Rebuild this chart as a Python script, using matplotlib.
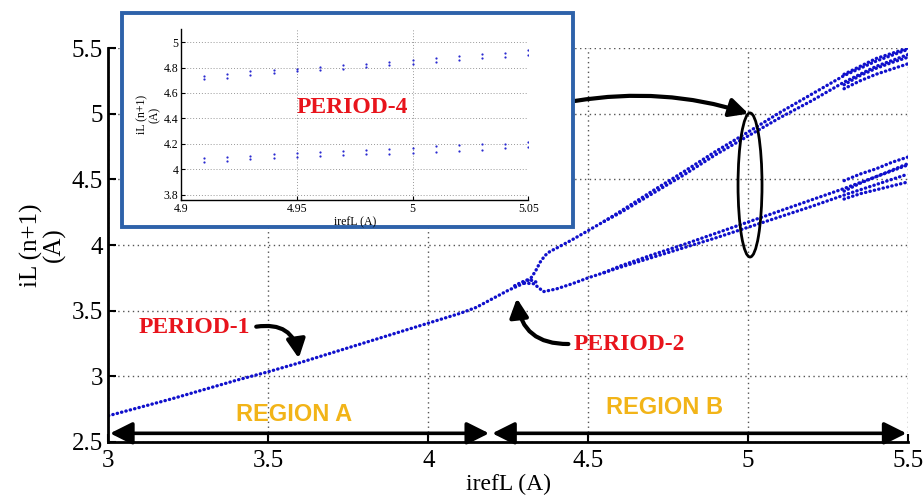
import matplotlib
matplotlib.use("Agg")
import matplotlib.pyplot as plt
from matplotlib.patches import Ellipse, Rectangle, FancyArrowPatch

plt.rcParams['font.family'] = ['Liberation Serif', 'DejaVu Serif']

# ---------------- data ----------------
# period-1 branch
p1_x = [3.0, 3.1, 3.2, 3.3, 3.4, 3.5, 3.6, 3.7, 3.8, 3.9, 4.0, 4.1, 4.15, 4.2, 4.25, 4.30]
p1_y = [2.70, 2.765, 2.83, 2.90, 2.97, 3.035, 3.105, 3.18, 3.255, 3.33, 3.405, 3.48, 3.525, 3.59, 3.655, 3.71]

# period-2 upper branch (before period-4 split)
up_x = [4.30, 4.32, 4.335, 4.35, 4.365, 4.38, 4.40, 4.45, 4.50, 4.55]
up_y = [3.71, 3.745, 3.80, 3.87, 3.92, 3.95, 3.975, 4.04, 4.11, 4.18]

# period-2 lower branch (before period-4 split)
lo_x = [4.30, 4.33, 4.36, 4.40, 4.45, 4.50, 4.55]
lo_y = [3.71, 3.705, 3.645, 3.665, 3.705, 3.75, 3.79]

# small fan at the bifurcation point
fan_x = [4.27, 4.29, 4.31, 4.325, 4.34]
fan_y = [3.69, 3.715, 3.735, 3.73, 3.715]

# period-4 strands
p4_x = [4.55, 4.6, 4.7, 4.8, 4.9, 5.0, 5.1, 5.2, 5.3, 5.4, 5.5]
up_a = [4.18, 4.255, 4.41, 4.56, 4.715, 4.86, 5.01, 5.15, 5.29, 5.40, 5.49]
up_b = [4.18, 4.245, 4.39, 4.535, 4.69, 4.83, 4.97, 5.10, 5.24, 5.36, 5.45]
lo_a = [3.79, 3.84, 3.925, 4.005, 4.09, 4.175, 4.26, 4.345, 4.43, 4.52, 4.61]
lo_b = [3.79, 3.83, 3.905, 3.98, 4.055, 4.135, 4.215, 4.295, 4.38, 4.46, 4.54]

# extra strands near the end (period-8 / chaos)
ch_x = [5.30, 5.35, 5.40, 5.45, 5.50]
up_c = [5.19, 5.25, 5.30, 5.34, 5.38]
up_d = [5.30, 5.36, 5.42, 5.46, 5.50]
up_e = [5.22, 5.29, 5.345, 5.39, 5.43]
lo_c = [4.49, 4.54, 4.58, 4.63, 4.67]
lo_d = [4.35, 4.39, 4.42, 4.45, 4.48]
lo_e = [4.41, 4.47, 4.52, 4.57, 4.62]

# inset (period-4 zoom)
in_x = [4.91, 4.92, 4.93, 4.94, 4.95, 4.96, 4.97, 4.98, 4.99, 5.00, 5.01, 5.02, 5.03, 5.04, 5.05]
in_u1 = [4.735, 4.75, 4.77, 4.78, 4.79, 4.805, 4.82, 4.83, 4.845, 4.86, 4.875, 4.89, 4.905, 4.915, 4.935]
in_u2 = [4.709, 4.72, 4.745, 4.76, 4.77, 4.78, 4.79, 4.805, 4.82, 4.83, 4.845, 4.86, 4.875, 4.885, 4.895]
in_l1 = [4.086, 4.096, 4.109, 4.122, 4.13, 4.14, 4.148, 4.153, 4.164, 4.171, 4.182, 4.19, 4.197, 4.203, 4.218]
in_l2 = [4.057, 4.068, 4.078, 4.088, 4.099, 4.104, 4.112, 4.12, 4.125, 4.132, 4.14, 4.148, 4.156, 4.166, 4.177]

x_ticks = [3, 3.5, 4, 4.5, 5, 5.5]
x_labels = ['3', '3.5', '4', '4.5', '5', '5.5']
y_ticks = [2.5, 3, 3.5, 4, 4.5, 5, 5.5]
y_labels = ['2.5', '3', '3.5', '4', '4.5', '5', '5.5']
in_xticks = [4.9, 4.95, 5.0, 5.05]
in_xlabels = ['4.9', '4.95', '5', '5.05']
in_yticks = [3.8, 4.0, 4.2, 4.4, 4.6, 4.8, 5.0]
in_ylabels = ['3.8', '4', '4.2', '4.4', '4.6', '4.8', '5']

# ---------------- figure ----------------
fig = plt.figure(figsize=(9.24, 4.95), dpi=100)
ax = fig.add_axes([0.1174, 0.1071, 0.8653, 0.7959])
ax.set_xlim(3, 5.5)
ax.set_ylim(2.5, 5.5)
for s in ['top', 'right']:
    ax.spines[s].set_visible(False)
for s in ['left', 'bottom']:
    ax.spines[s].set_linewidth(2.0)
ax.set_xticks(x_ticks, x_labels)
ax.set_yticks(y_ticks, y_labels)
ax.tick_params(direction='in', length=6, width=1.5, labelsize=18)
ax.tick_params(axis='x', pad=6)
ax.tick_params(axis='y', pad=4)
ax.grid(True, linestyle=(0, (1, 2.5)), color='#555555', lw=1.0)
ax.set_axisbelow(True)
ax.set_xlabel('irefL (A)', fontsize=17, labelpad=1)
ax.set_ylabel('iL (n+1)\n(A)', fontsize=18, linespacing=1.0, labelpad=4)

dot = dict(color='#1010cc', lw=2.4, linestyle=(0, (0.1, 1.25)), dash_capstyle='round')
ax.plot(p1_x, p1_y, **dot)
ax.plot(up_x, up_y, **dot)
ax.plot(lo_x, lo_y, **dot)
ax.plot(fan_x, fan_y, **dot)
for yy in (up_a, up_b, lo_a, lo_b):
    ax.plot(p4_x, yy, **dot)
for yy in (up_c, up_d, up_e, lo_c, lo_d, lo_e):
    ax.plot(ch_x, yy, **dot)

# ellipse
ax.add_patch(Ellipse((5.006, 4.457), 0.075, 1.097, fill=False, ec='black', lw=2.0, zorder=5))

# region arrows
for x0, x1 in [(3.005, 4.19), (4.20, 5.495)]:
    ax.add_patch(FancyArrowPatch((x0, 2.566), (x1, 2.566),
                 arrowstyle='<|-|>,head_length=0.9,head_width=0.45', mutation_scale=15,
                 lw=2.6, color='black', shrinkA=0, shrinkB=0, zorder=6, clip_on=False))
ax.text(3.581, 2.713, 'REGION A', color='#f2b418', fontsize=17, fontweight='bold',
        family='Liberation Sans', ha='center', va='center')
ax.text(4.7375, 2.759, 'REGION B', color='#f2b418', fontsize=17, fontweight='bold',
        family='Liberation Sans', ha='center', va='center')

# period labels
ax.text(3.267, 3.372, 'PERIOD-1', color='#e8141c', fontsize=17, fontweight='bold',
        ha='center', va='center')
ax.text(4.63, 3.246, 'PERIOD-2', color='#e8141c', fontsize=17, fontweight='bold',
        ha='center', va='center')
arr = dict(arrowstyle='-|>,head_length=0.8,head_width=0.4', mutation_scale=14, lw=3,
           color='black', shrinkA=0, shrinkB=0)
ax.add_patch(FancyArrowPatch((3.462, 3.378), (3.595, 3.137),
             connectionstyle='arc3,rad=-0.5', **arr, zorder=6))
ax.add_patch(FancyArrowPatch((4.438, 3.246), (4.277, 3.594),
             connectionstyle='arc3,rad=-0.45', **arr, zorder=6))
ax.add_patch(FancyArrowPatch((4.459, 5.097), (5.001, 5.0),
             connectionstyle='arc3,rad=-0.12', **arr, zorder=6, clip_on=False))

# inset frame
fig.patches.append(Rectangle((121.7 / 924, 1 - 226.7 / 495), 451 / 924, 213.4 / 495,
                             transform=fig.transFigure, facecolor='white',
                             edgecolor='#2e62aa', lw=2.8, zorder=10))

iax = fig.add_axes([181 / 924, 1 - 200 / 495, 347.3 / 924, 170.7 / 495], zorder=11)
iax.set_facecolor('white')
iax.set_xlim(4.9, 5.05)
iax.set_ylim(3.76, 5.1)
for s in ['top', 'right']:
    iax.spines[s].set_visible(False)
for s in ['left', 'bottom']:
    iax.spines[s].set_linewidth(1.0)
iax.set_xticks(in_xticks, in_xlabels)
iax.set_yticks(in_yticks, in_ylabels)
iax.tick_params(direction='in', length=3, width=0.8, labelsize=8.5, pad=2)
iax.grid(True, linestyle=(0, (1, 2)), color='#999999', lw=0.7)
iax.set_axisbelow(True)
iax.set_xlabel('irefL (A)', fontsize=8.5, labelpad=1)
iax.set_ylabel('iL (n+1)\n(A)', fontsize=8.5, linespacing=1.0, labelpad=2)
for yy in (in_u1, in_u2, in_l1, in_l2):
    iax.plot(in_x, yy, linestyle='none', marker='o', ms=1.6, color='#2a2ad0', mec='none')
iax.text(4.974, 4.489, 'PERIOD-4', color='#e8141c', fontsize=17, fontweight='bold',
         ha='center', va='center')

fig.savefig('out.png', dpi=100)
